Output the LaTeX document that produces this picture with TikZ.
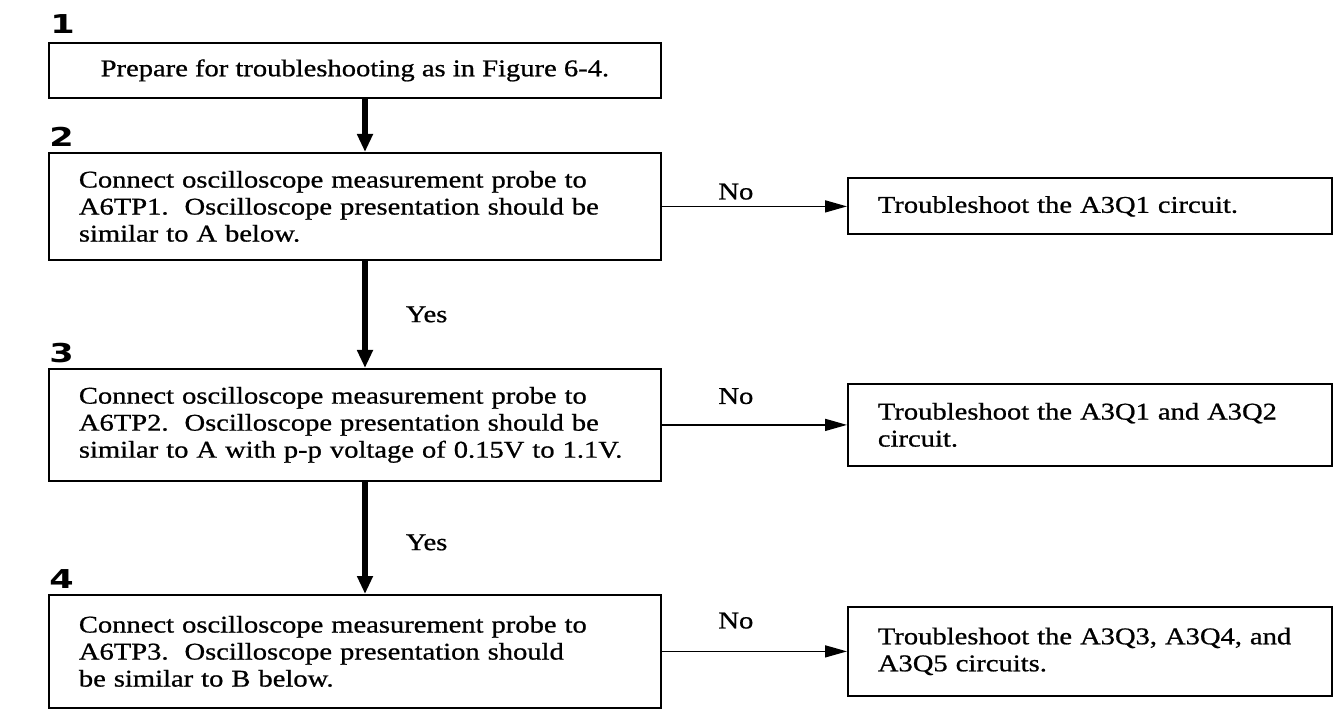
\documentclass[tikz,border=0pt]{standalone}
\usepackage{fontspec}
\setmainfont{Liberation Serif}[FakeStretch=1.19, FakeBold=0.8]
\newfontfamily\numfont{DejaVu Sans}[FakeStretch=1.35]
\usetikzlibrary{arrows.meta}

\begin{document}
\begin{tikzpicture}[x=0.5pt,y=-0.5pt,
    box/.style={draw, line width=0.9pt, inner ysep=0pt},
    stepbox/.style={box, anchor=north west, minimum width=306pt,
                    text width=276pt, inner xsep=15pt, align=left},
    fixbox/.style={box, anchor=west, minimum width=242pt,
                   text width=212pt, inner xsep=15pt, align=left},
    stepnum/.style={anchor=south west, inner sep=0pt,
                    font=\numfont\bfseries\fontsize{13}{13}\selectfont},
    yesarrow/.style={line width=2.8pt, -{Triangle[length=9pt,width=7.5pt]}},
    noarrow/.style={line width=0.75pt, -{Triangle[length=11pt,width=6pt]}},
    answer/.style={inner sep=0pt},
    every node/.style={font=\fontsize{12}{13.5}\selectfont}
  ]

\useasboundingbox (0,0) rectangle (1343,716);

\coordinate (spine) at (365,0);
\coordinate (fixcol) at (847,0);

% left column
\node[box, anchor=north west, minimum width=306pt, minimum height=27.5pt]
  (step_1) at (48,42) {Prepare for troubleshooting as in Figure 6-4.};
\node[stepbox, minimum height=53.5pt] (step_2) at (48,152)
  {Connect oscilloscope measurement probe to\\
   A6TP1.\ \ Oscilloscope presentation should be\\
   similar to A below.};
\node[stepbox, minimum height=56pt] (step_3) at (48,368)
  {Connect oscilloscope measurement probe to\\
   A6TP2.\ \ Oscilloscope presentation should be\\
   similar to A with p-p voltage of 0.15V to 1.1V.};
\node[stepbox, minimum height=56.5pt] (step_4) at (48,594)
  {Connect oscilloscope measurement probe to\\
   A6TP3.\ \ Oscilloscope presentation should\\
   be similar to B below.};

\node[stepnum] (num_1) at ([shift={(2,-8)}]step_1.north west) {1};
\node[stepnum] (num_2) at ([shift={(1,-5)}]step_2.north west) {2};
\node[stepnum] (num_3) at ([shift={(1,-5)}]step_3.north west) {3};
\node[stepnum] (num_4) at ([shift={(1,-5)}]step_4.north west) {4};

% right column
\node[fixbox, minimum height=28pt] (fix_1) at (step_2.east -| fixcol)
  {Troubleshoot the A3Q1 circuit.};
\node[fixbox, minimum height=41pt] (fix_2) at (step_3.east -| fixcol)
  {Troubleshoot the A3Q1 and A3Q2\\ circuit.};
\node[fixbox, minimum height=44.5pt] (fix_3) at (step_4.east -| fixcol)
  {Troubleshoot the A3Q3, A3Q4, and\\ A3Q5 circuits.};


\draw[yesarrow] (step_1.south -| spine) -- (step_2.north -| spine);
\draw[yesarrow] (step_2.south -| spine) -- (step_3.north -| spine)
  node[answer, pos=0.5, right=19pt] (yes_1) {Yes};
\draw[yesarrow] (step_3.south -| spine) -- (step_4.north -| spine)
  node[answer, pos=0.54, right=19pt] (yes_2) {Yes};

\draw[noarrow] (step_2.east) -- (fix_1.west)
  node[answer, pos=0.4, above=3pt] (no_1) {No};
\draw[noarrow] (step_3.east) -- (fix_2.west)
  node[answer, pos=0.4, above=10pt] (no_2) {No};
\draw[noarrow] (step_4.east) -- (fix_3.west)
  node[answer, pos=0.4, above=11pt] (no_3) {No};
\end{tikzpicture}
\end{document}
